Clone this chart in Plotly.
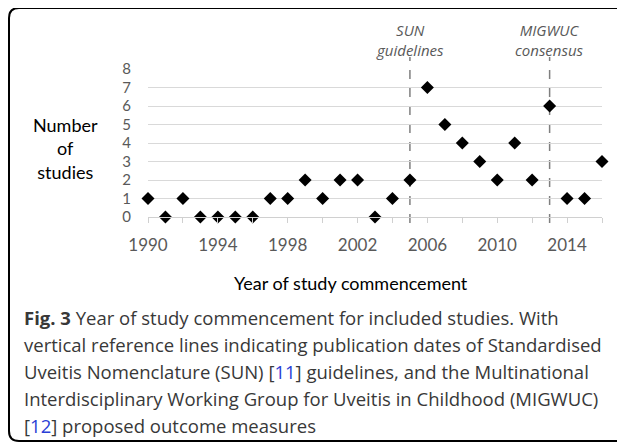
import plotly.graph_objects as go

# ---- data ----
years = list(range(1990, 2017))
studies = [1, 0, 1, 0, 0, 0, 0, 1, 1, 2, 1, 2, 2, 0, 1, 2, 7, 5, 4, 3, 2, 4, 2, 6, 1, 1, 3]
tick_years = list(range(1990, 2017, 2))
tick_labels = ["1990", "", "1994", "", "1998", "", "2002", "", "2006", "", "2010", "", "2014", ""]
y_ticks = list(range(0, 9))
ref_years = [2005, 2013]
ref_labels = ["SUN<br>guidelines", "MIGWUC<br>consensus"]
x_title = "Year of study commencement"
y_title = "Number<br>of<br>studies"
caption_lines = [
    "<b>Fig. 3</b> Year of study commencement for included studies. With",
    "vertical reference lines indicating publication dates of Standardised",
    "Uveitis Nomenclature (SUN) [<span style='color:#2a3fd6'>11</span>] guidelines, and the Multinational",
    "Interdisciplinary Working Group for Uveitis in Childhood (MIGWUC)",
    "[<span style='color:#2a3fd6'>12</span>] proposed outcome measures",
]

# ---- layout geometry (pixels in the final window; page body has an 8px margin) ----
OFF = 8
W, H = 625 - OFF, 442 - OFF
L, R, T, B = 148 - OFF, 602 - OFF, 69 - OFF, 217 - OFF


def px(x):
    return (x - OFF - L) / (R - L)


def py(y):
    return (B - (y - OFF)) / (B - T)


fig = go.Figure()
fig.add_trace(go.Scatter(
    x=years, y=studies, mode="markers",
    marker=dict(symbol="diamond", size=10, color="black"),
    cliponaxis=False, showlegend=False, hoverinfo="x+y",
))

shapes = []
annotations = []
for yr, lab in zip(ref_years, ref_labels):
    shapes.append(dict(type="line", xref="x", yref="paper", x0=yr, x1=yr,
                       y0=py(223), y1=py(57),
                       line=dict(color="#7f7f7f", width=1.5, dash="dash"), layer="below"))
    annotations.append(dict(xref="x", yref="paper", x=yr, y=py(40), text="<i>" + lab + "</i>",
                            showarrow=False, xanchor="center", yanchor="middle",
                            font=dict(family="Open Sans", size=15, color="#595959")))

# frame (rounded rectangle, right side off-image)
fl, ft, fb, fr, rad = 9, 8, 441, 660, 10
path = (f"M {px(fr)},{py(ft)} L {px(fl + rad)},{py(ft)} Q {px(fl)},{py(ft)} {px(fl)},{py(ft + rad)} "
        f"L {px(fl)},{py(fb - rad)} Q {px(fl)},{py(fb)} {px(fl + rad)},{py(fb)} L {px(fr)},{py(fb)}")
shapes.append(dict(type="path", xref="paper", yref="paper", path=path,
                   line=dict(color="black", width=2)))

annotations.append(dict(xref="paper", yref="paper", x=px(351), y=py(283), text=x_title,
                        showarrow=False, xanchor="center", yanchor="middle",
                        font=dict(family="Lato", size=18, color="black")))
annotations.append(dict(xref="paper", yref="paper", x=px(65), y=py(148), text=y_title,
                        showarrow=False, xanchor="center", yanchor="middle",
                        font=dict(family="Lato", size=18, color="black")))

cap_y = [317, 344, 371, 398, 425]
for txt, yy in zip(caption_lines, cap_y):
    annotations.append(dict(xref="paper", yref="paper", x=px(22), y=py(yy), text=txt,
                            showarrow=False, xanchor="left", yanchor="middle",
                            font=dict(family="Open Sans", size=18.5, color="#383838")))

fig.update_layout(
    width=W, height=H,
    margin=dict(l=L, r=W - R, t=T, b=H - B, pad=0),
    paper_bgcolor="white", plot_bgcolor="white",
    shapes=shapes, annotations=annotations,
    xaxis=dict(range=[1990, 2016], tickvals=tick_years, ticktext=tick_labels,
               showgrid=False, zeroline=False, showline=True, linecolor="#d0d0d0", linewidth=1,
               ticks="outside", ticklen=5, tickcolor="#d0d0d0",
               tickfont=dict(family="Lato", size=17, color="#595959"), ticklabelstandoff=8),
    yaxis=dict(range=[0, 8], tickvals=y_ticks, showgrid=True, gridcolor="#d9d9d9", gridwidth=1,
               zeroline=False, showline=False, ticks="",
               tickfont=dict(family="Lato", size=15, color="#595959"), ticklabelstandoff=16),
)

fig.write_html("out.html")
